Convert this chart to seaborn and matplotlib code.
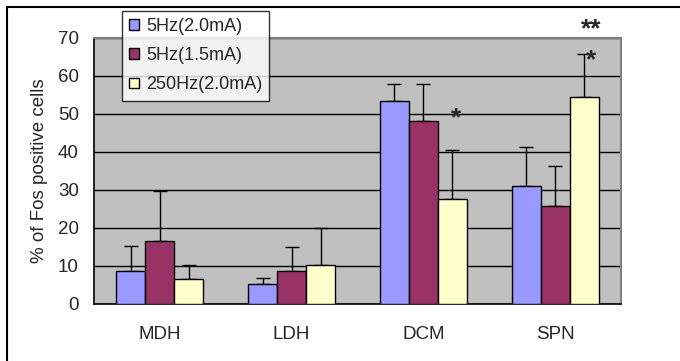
import numpy as np
import pandas as pd
import matplotlib
matplotlib.use("Agg")
import matplotlib.pyplot as plt
from matplotlib.patches import Rectangle
import seaborn as sns

regions = ["MDH", "LDH", "DCM", "SPN"]
conditions = ["5Hz(2.0mA)", "5Hz(1.5mA)", "250Hz(2.0mA)"]
means_5hz_20 = [8.8, 5.3, 53.3, 31.1]
means_5hz_15 = [16.5, 8.8, 48.2, 25.8]
means_250hz_20 = [6.5, 10.3, 27.7, 54.5]
sd_5hz_20 = [6.5, 1.5, 4.7, 10.3]
sd_5hz_15 = [13.2, 6.1, 9.8, 10.5]
sd_250hz_20 = [3.8, 9.8, 12.7, 11.3]
colors = ["#9999FF", "#993366", "#FFFFCC"]
yticks = [0, 10, 20, 30, 40, 50, 60, 70]

means = [means_5hz_20, means_5hz_15, means_250hz_20]
sds = [sd_5hz_20, sd_5hz_15, sd_250hz_20]
rows = []
for c, m in zip(conditions, means):
    for r, v in zip(regions, m):
        rows.append({"region": r, "condition": c, "value": v})
df = pd.DataFrame(rows)

sns.set_style("white")
plt.rcParams["font.family"] = ["Liberation Sans", "DejaVu Sans"]

fig = plt.figure(figsize=(6.8, 3.61), dpi=100)
ax = fig.add_axes([94/680, 1-304/361, (621-94)/680, (304-38)/361])
ax.set_facecolor("#C0C0C0")

sns.barplot(data=df, x="region", y="value", hue="condition", order=regions,
            hue_order=conditions, palette=colors, saturation=1, width=0.66,
            edgecolor="black", linewidth=1, errorbar=None, ax=ax, zorder=3)

for cont, sd in zip(ax.containers, sds):
    for bar, e in zip(cont, sd):
        x = bar.get_x() + bar.get_width()/2
        h = bar.get_height()
        ax.errorbar([x], [h], yerr=[[0], [e]], fmt="none", ecolor="black",
                    elinewidth=1, capsize=5, capthick=1, zorder=2)

ax.set_ylim(0, 70)
ax.set_xlim(-0.5, 3.5)
ax.set_yticks(yticks)
ax.yaxis.grid(True, color="black", linewidth=1, zorder=0)
ax.set_axisbelow(True)
ax.set_xlabel("")
ax.set_ylabel("% of Fos positive cells", fontsize=13.5, labelpad=7)
ax.tick_params(axis="y", length=0, pad=11, labelsize=13.5)
ax.tick_params(axis="x", which="major", length=0, pad=16, labelsize=13.5)
ax.set_xticks([0.5, 1.5, 2.5], minor=True)
ax.tick_params(axis="x", which="minor", direction="in", length=4, width=1, color="black")

for s in ["left", "bottom"]:
    ax.spines[s].set_color("black")
    ax.spines[s].set_linewidth(1.2)
for s in ["top", "right"]:
    ax.spines[s].set_color("#808080")
    ax.spines[s].set_linewidth(1.5)

# significance marks
ax.text(2.25, 48.9, "*", fontsize=19, fontweight="bold", ha="center", va="center", zorder=5)
ax.text(3.272, 64.1, "*", fontsize=19, fontweight="bold", ha="center", va="center", zorder=5)
ax.text(3.272, 72.4, "**", fontsize=19, fontweight="bold", ha="center", va="center",
        zorder=5, clip_on=False)

handles, labels = ax.get_legend_handles_labels()
if ax.legend_:
    ax.legend_.remove()
leg = fig.legend(handles, labels, loc="upper left", bbox_to_anchor=(122/680, 1-11/361),
                 frameon=True, fancybox=False, fontsize=13, handlelength=0.55,
                 handleheight=0.55, handletextpad=0.37, labelspacing=0.67,
                 borderpad=0.4, borderaxespad=0)
leg.get_frame().set_edgecolor("black")
leg.get_frame().set_linewidth(1)
for h in leg.legend_handles:
    h.set_edgecolor("black")
    h.set_linewidth(1)

fig.patches.append(Rectangle((6.5/680, -0.2), 1.2, 1.2 - 6.5/361,
                             transform=fig.transFigure, fill=False, edgecolor="black",
                             linewidth=1.5, clip_on=False))

fig.savefig("out.png", dpi=100, facecolor="white")
